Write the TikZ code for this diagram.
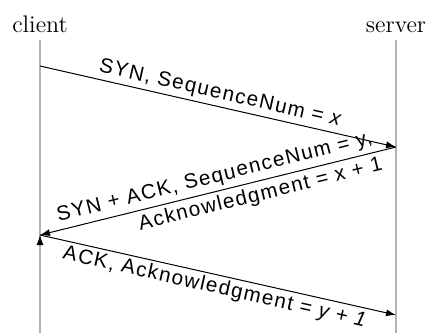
\documentclass[tikz,border=0pt]{standalone}
\usepackage{fontspec}
\newfontfamily\msgfont[LetterSpace=7]{Liberation Sans}
\usetikzlibrary{arrows.meta}

\begin{document}
\begin{tikzpicture}[x=0.5pt,y=-0.5pt,
    party/.style = {font=\fontsize{12}{14}\selectfont, inner sep=0pt, anchor=base},
    life/.style = {draw=black!30, line width=1pt},
    msg/.style = {draw, line width=0.5pt, -{Latex[length=5pt,width=3.5pt]}},
    lbl/.style = {font=\msgfont\fontsize{10.3}{12}\selectfont, sloped, inner sep=1.5pt}]
      \useasboundingbox (0,0) rectangle (427,333);

      \node[party](client) at (40,32){client};
      \node[party](server) at (396,32){server};

      \coordinate (c0) at (40,40);
      \coordinate (c1) at (40,66);
      \coordinate (c2) at (40,235);
      \coordinate (c3) at (40,333);

      \coordinate (s0) at (396,40);
      \coordinate (s1) at (396,147);
      \coordinate (s2) at (396,315);
      \coordinate (s3) at (396,333);

      \path[life]
      (c0) edge (c3)
      (s0) edge (s3)
      ;

      \path[msg]
      (c1) edge node[lbl, above]{SYN, SequenceNum = \textit{x}} (s1)
      (s1) edge node[lbl, above, inner sep=2pt]{SYN + ACK, SequenceNum = y,}
                node[lbl, below, inner sep=2pt, pos=0.39]{Acknowledgment = x + 1} (c2)
      (c2) edge node[lbl, below]{ACK, Acknowledgment = \textit{y + 1}} (s2)
      ;

    \end{tikzpicture}
\end{document}
